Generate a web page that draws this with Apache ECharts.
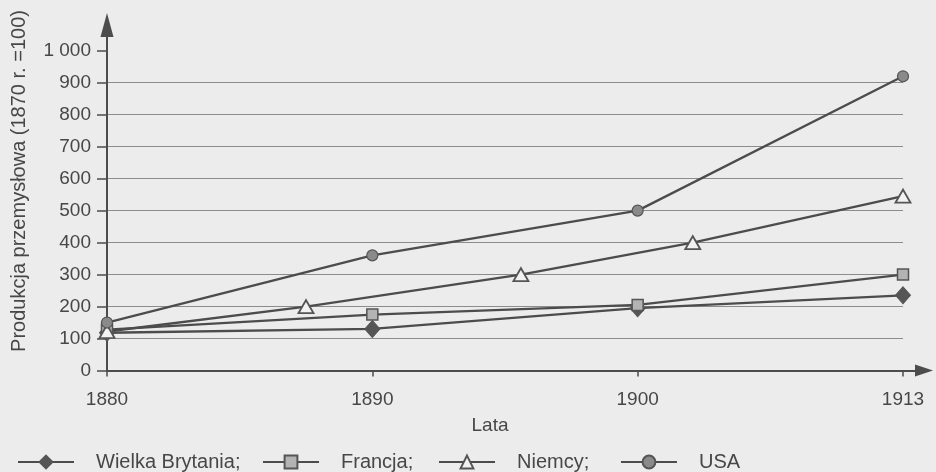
<!DOCTYPE html>
<html>
<head>
<meta charset="utf-8">
<script src="https://cdn.jsdelivr.net/npm/echarts@6/dist/echarts.min.js"></script>
<style>
html,body{margin:0;padding:0;background:#ececec;}
#chart{width:936px;height:472px;}
</style>
</head>
<body>
<div id="chart"></div>
<script>
// ---- data ----
const tickYears = [1880, 1890, 1900, 1913];
const tickLabels = ['1880', '1890', '1900', '1913'];
const yTicks = [0, 100, 200, 300, 400, 500, 600, 700, 800, 900, 1000];
const yTickLabels = ['0', '100', '200', '300', '400', '500', '600', '700', '800', '900', '1 000'];

const seriesNames = ['Wielka Brytania;', 'Francja;', 'Niemcy;', 'USA'];

const wbYears = [1880, 1890, 1900, 1913];
const wbValues = [118, 130, 195, 235];

const frYears = [1880, 1890, 1900, 1913];
const frValues = [128, 175, 205, 300];

const deYears = [1880, 1887.5, 1895.6, 1902.7, 1913];
const deValues = [122, 200, 300, 400, 545];

const usYears = [1880, 1890, 1900, 1913];
const usValues = [150, 360, 500, 920];

const yAxisName = 'Produkcja przemysłowa (1870 r. =100)';
const xAxisName = 'Lata';

// ---- axis position transform (ticks are evenly spaced on the original axis) ----
function yearToPos(y) {
  for (let i = 0; i < tickYears.length - 1; i++) {
    const a = tickYears[i], b = tickYears[i + 1];
    if (y <= b || i === tickYears.length - 2) return i + (y - a) / (b - a);
  }
  return 0;
}
function pairs(years, vals) { return years.map((y, i) => [yearToPos(y), vals[i]]); }

const dark = '#4c4c4c';
const txt = '#474747';
const font = 'Liberation Sans, Arial, sans-serif';
const gridColors = yTicks.map((v, i) => (i === yTicks.length - 1 ? 'rgba(0,0,0,0)' : '#8c8c8c'));

const chart = echarts.init(document.getElementById('chart'));

function legendAt(left, name) {
  return {
    left: left, top: 447, data: [name],
    itemWidth: 56, itemHeight: 16, itemGap: 0,
    selectedMode: false,
    textStyle: { fontSize: 20, color: txt, fontFamily: font, padding: [0, 0, 0, 17] }
  };
}

const lineStyle = { color: dark, width: 2.3 };

chart.setOption({
  animation: false,
  backgroundColor: '#ececec',
  grid: [
    { left: 107, right: 33, top: 50.7, bottom: 101.5 },
    { left: 107, right: 12, top: 25, bottom: 101.5 }
  ],
  xAxis: [
    {
      gridIndex: 0, type: 'value', min: 0, max: tickYears.length - 1, interval: 1,
      name: xAxisName, nameLocation: 'middle', nameGap: 46,
      nameTextStyle: { fontSize: 19, color: txt, fontFamily: font, padding: [0, 30, 0, 0] },
      axisLine: { show: false },
      axisTick: { show: true, length: 6, lineStyle: { color: dark, width: 1.5 } },
      axisLabel: { margin: 20, fontSize: 19, color: txt, fontFamily: font,
        formatter: v => (Number.isInteger(v) ? tickLabels[v] : '') },
      splitLine: { show: false }
    },
    {
      gridIndex: 1, type: 'value', min: 0, max: 1,
      axisLine: { show: true, lineStyle: { color: dark, width: 2 }, symbol: ['none', 'triangle'], symbolSize: [12, 18] },
      axisTick: { show: false }, axisLabel: { show: false }, splitLine: { show: false }
    }
  ],
  yAxis: [
    {
      gridIndex: 0, type: 'value', min: yTicks[0], max: yTicks[yTicks.length - 1], interval: 100,
      axisLine: { show: false },
      axisTick: { show: true, length: 10, lineStyle: { color: dark, width: 1.5 } },
      axisLabel: { margin: 16, fontSize: 19, color: txt, fontFamily: font,
        formatter: v => { const i = yTicks.indexOf(v); return i >= 0 ? yTickLabels[i] : ''; } },
      splitLine: { show: true, lineStyle: { color: gridColors, width: 1.2 } }
    },
    {
      gridIndex: 1, type: 'value', min: 0, max: 1,
      axisLine: { show: true, lineStyle: { color: dark, width: 2 }, symbol: ['none', 'triangle'], symbolSize: [13, 24] },
      axisTick: { show: false }, axisLabel: { show: false }, splitLine: { show: false }
    }
  ],
  legend: [
    legendAt(12, seriesNames[0]),
    legendAt(257, seriesNames[1]),
    legendAt(433, seriesNames[2]),
    legendAt(615, seriesNames[3])
  ],
  graphic: [{
    type: 'text', x: 19, y: 181, rotation: Math.PI / 2,
    style: { text: yAxisName, fontSize: 20, fill: txt, fontFamily: font, align: 'center', verticalAlign: 'middle' }
  }],
  series: [
    {
      name: seriesNames[0], type: 'line', data: pairs(wbYears, wbValues),
      symbol: 'diamond', symbolSize: [15, 17], showAllSymbol: true,
      lineStyle: lineStyle, itemStyle: { color: '#555555', borderColor: '#555555', borderWidth: 1 }, z: 3
    },
    {
      name: seriesNames[1], type: 'line', data: pairs(frYears, frValues),
      symbol: 'rect', symbolSize: 11, showAllSymbol: true,
      lineStyle: lineStyle, itemStyle: { color: '#b3b3b3', borderColor: '#555555', borderWidth: 1.5 }, z: 3
    },
    {
      name: seriesNames[2], type: 'line', data: pairs(deYears, deValues),
      symbol: 'triangle', symbolSize: [15, 13], showAllSymbol: true,
      lineStyle: lineStyle, itemStyle: { color: '#f2f2f2', borderColor: '#555555', borderWidth: 1.8 }, z: 3
    },
    {
      name: seriesNames[3], type: 'line', data: pairs(usYears, usValues),
      symbol: 'circle', symbolSize: 11, showAllSymbol: true,
      lineStyle: lineStyle, itemStyle: { color: '#8a8a8a', borderColor: '#555555', borderWidth: 1.2 }, z: 3
    }
  ]
});
</script>
</body>
</html>
